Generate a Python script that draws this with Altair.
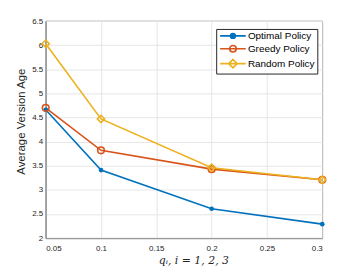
import altair as alt
import pandas as pd

q_values = [0.05, 0.1, 0.2, 0.3]
optimal = [4.66, 3.41, 2.61, 2.29]
greedy = [4.70, 3.82, 3.43, 3.21]
random_policy = [6.03, 4.47, 3.46, 3.21]
series_names = ["Optimal Policy", "Greedy Policy", "Random Policy"]
colors = ["#0072BD", "#D95319", "#EDB120"]
x_ticks = [0.05, 0.1, 0.15, 0.2, 0.25, 0.3]
y_ticks = [2, 2.5, 3, 3.5, 4, 4.5, 5, 5.5, 6, 6.5]

rows = []
for name, vals in zip(series_names, [optimal, greedy, random_policy]):
    for x, y in zip(q_values, vals):
        rows.append({"q": x, "age": y, "series": name})
df = pd.DataFrame(rows)

X = alt.X("q:Q", scale=alt.Scale(domain=[0.05, 0.3], nice=False, zero=False),
          axis=alt.Axis(values=x_ticks, format="~g", title="qᵢ, i = 1, 2, 3",
                        titleFont="DejaVu Serif", titleFontStyle="italic",
                        titleFontSize=11, titleFontWeight="normal",
                        titleX=149, titleY=26, titleBaseline="alphabetic",
                        labelPadding=6))
Y = alt.Y("age:Q", scale=alt.Scale(domain=[2, 6.5], nice=False, zero=False),
          axis=alt.Axis(values=y_ticks, format="~g", title="Average Version Age",
                        titleFont="Liberation Sans", titleFontSize=11.5,
                        titleFontWeight="normal", titlePadding=5, titleY=101,
                        labelPadding=3))

base = alt.Chart(df)
layers = []
for name, c in zip(series_names, colors):
    layers.append(base.transform_filter(alt.datum.series == name)
                  .mark_line(color=c, strokeWidth=1.6).encode(x=X, y=Y))

point_styles = [
    dict(shape="circle", filled=True, size=22, strokeWidth=0),
    dict(shape="circle", filled=False, size=45, strokeWidth=1.6),
    dict(shape="diamond", filled=False, size=55, strokeWidth=1.6),
]
for name, c, st in zip(series_names, colors, point_styles):
    layers.append(base.transform_filter(alt.datum.series == name)
                  .mark_point(color=c, opacity=1, **st).encode(x=X, y=Y))

legend_paths = [
    "M-1,0H7.6M2.5,0A0.8,0.8 0 1,0 4.1,0A0.8,0.8 0 1,0 2.5,0",
    "M-1,0H7.6M2.2,0A1.1,1.1 0 1,0 4.4,0A1.1,1.1 0 1,0 2.2,0",
    "M-1,0H7.6M1.9,0L3.3,-1.4L4.7,0L3.3,1.4Z",
]
legend_fills = [colors[0], "transparent", "transparent"]

legend_layer = base.transform_filter("false").mark_point(opacity=1, strokeWidth=1.6).encode(
    x=X, y=Y,
    color=alt.Color("series:N", scale=alt.Scale(domain=series_names, range=colors),
                    legend=alt.Legend(title=None, orient="none", legendX=172, legendY=8,
                                      fillColor="white", strokeColor="#262626",
                                      padding=2, rowPadding=0, labelOffset=20,
                                      labelFont="Liberation Sans", labelFontSize=10,
                                      labelColor="#000000", symbolSize=36,
                                      symbolStrokeWidth=1.6, symbolOpacity=1)),
    shape=alt.Shape("series:N", scale=alt.Scale(domain=series_names, range=legend_paths)),
    fill=alt.Fill("series:N", scale=alt.Scale(domain=series_names, range=legend_fills)),
)
layers.append(legend_layer)

chart = alt.layer(*layers).properties(
    width=279, height=219,
    autosize=alt.AutoSizeParams(type="none"),
    padding={"left": 38, "top": 12, "right": 30, "bottom": 30},
    background="white",
).configure_view(stroke="#262626", strokeWidth=0.8).configure_axis(
    grid=True, gridColor="#e6e6e6", gridWidth=1,
    domainColor="#9a9a9a", domainWidth=1.5,
    ticks=False, labelFont="Liberation Sans", labelFontSize=8,
    labelColor="#262626", titleColor="#262626",
)

chart.save("out.html", embed_options={"renderer": "svg", "actions": False})
